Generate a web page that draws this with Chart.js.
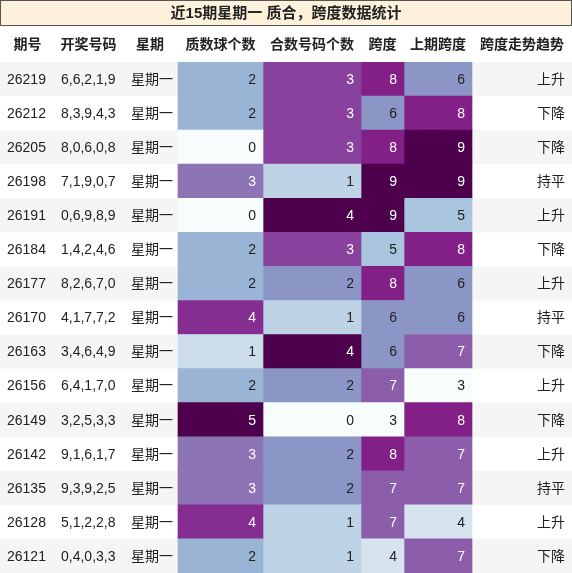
<!DOCTYPE html>
<html><head><meta charset="utf-8">
<script src="https://cdn.jsdelivr.net/npm/chart.js@4"></script>
<style>html,body{margin:0;padding:0;background:#fff}#wrap{width:572px;height:573px}</style>
</head><body><div id="wrap"><canvas id="c"></canvas></div>
<script>
const title = '近15期星期一 质合，跨度数据统计';
const headers = ['期号', '开奖号码', '星期', '质数球个数', '合数号码个数', '跨度', '上期跨度', '跨度走势趋势'];
const issues = ['26219','26212','26205','26198','26191','26184','26177','26170','26163','26156','26149','26142','26135','26128','26121'];
const draws = ['6,6,2,1,9','8,3,9,4,3','8,0,6,0,8','7,1,9,0,7','0,6,9,8,9','1,4,2,4,6','8,2,6,7,0','4,1,7,7,2','3,4,6,4,9','6,4,1,7,0','3,2,5,3,3','9,1,6,1,7','9,3,9,2,5','5,1,2,2,8','0,4,0,3,3'];
const weekday = '星期一';
const primeCount = [2,2,0,3,0,2,2,4,1,2,5,3,3,4,2];
const compositeCount = [3,3,3,1,4,3,2,1,4,2,0,2,2,1,1];
const span = [8,6,8,9,9,5,8,6,6,7,3,8,7,7,4];
const prevSpan = [6,8,9,9,5,8,6,6,7,3,8,7,7,4,7];
const trend = ['上升','下降','下降','持平','上升','下降','上升','持平','下降','上升','下降','上升','持平','上升','下降'];

// column edges in pixels
const edges = [0, 55, 122, 178, 263, 361, 404, 472, 572];
const BuPu = ['#f7fcfd','#e0ecf4','#bfd3e6','#9ebcda','#8c96c6','#8c6bb1','#88419d','#810f7c','#4d004b'];
function hex(h){return [1,3,5].map(i=>parseInt(h.substr(i,2),16));}
function bupu(t){
  t = Math.max(0, Math.min(1, t)) * (BuPu.length - 1);
  const i = Math.min(Math.floor(t), BuPu.length - 2), f = t - i;
  const a = hex(BuPu[i]), b = hex(BuPu[i+1]);
  return 'rgb(' + a.map((v,k)=>Math.round(v + (b[k]-v)*f)).join(',') + ')';
}
const heatCols = [primeCount, compositeCount, span, prevSpan];
function norm(arr){const mn=Math.min(...arr),mx=Math.max(...arr);return arr.map(v=>(v-mn)/(mx-mn));}

const datasets = heatCols.map((vals, c) => {
  const n = norm(vals);
  return {
    data: vals.map(() => [edges[3+c], edges[4+c]]),
    backgroundColor: n.map(bupu),
    norm: n, values: vals,
    categoryPercentage: 1, barPercentage: 1, grouped: false, borderWidth: 0
  };
});

const tablePlugin = {
  id: 'table',
  beforeDatasetsDraw(chart) {
    const {ctx, scales: {x, y}} = chart;
    const W = chart.width;
    ctx.save();
    // title band
    ctx.fillStyle = '#fdf1dc'; ctx.fillRect(0, 0, W, 26);
    ctx.strokeStyle = '#555'; ctx.lineWidth = 1; ctx.strokeRect(0.5, 0.5, W - 1, 25);
    ctx.fillStyle = '#222'; ctx.font = 'bold 15px "Liberation Sans", "Noto Sans CJK SC"';
    ctx.textAlign = 'center'; ctx.textBaseline = 'middle';
    ctx.fillText(title, W / 2, 14);
    // header
    ctx.font = 'bold 14px "Liberation Sans", "Noto Sans CJK SC"';
    headers.forEach((h, i) => {
      const cx = (x.getPixelForValue(edges[i]) + x.getPixelForValue(edges[i+1])) / 2;
      ctx.fillText(h, cx, 45);
    });
    // row stripes
    issues.forEach((_, r) => {
      if (r % 2 === 0) {
        const yc = y.getPixelForValue(r), h = y.height / issues.length;
        ctx.fillStyle = '#f5f5f5';
        ctx.fillRect(x.left, yc - h / 2, x.right - x.left, h);
      }
    });
    ctx.restore();
  },
  afterDatasetsDraw(chart) {
    const {ctx, scales: {x, y}} = chart;
    ctx.save();
    ctx.font = '14px "Liberation Sans", "Noto Sans CJK SC"';
    ctx.textBaseline = 'middle';
    issues.forEach((id, r) => {
      const yc = y.getPixelForValue(r) + 1;
      ctx.fillStyle = '#222';
      ctx.textAlign = 'left';
      ctx.fillText(id, x.getPixelForValue(edges[0]) + 7, yc);
      ctx.fillText(draws[r], x.getPixelForValue(edges[1]) + 6, yc);
      ctx.textAlign = 'right';
      ctx.fillText(weekday, x.getPixelForValue(edges[3]) - 5, yc);
      ctx.fillText(trend[r], x.getPixelForValue(edges[8]) - 7, yc);
      chart.data.datasets.forEach((ds, c) => {
        ctx.fillStyle = ds.norm[r] > 0.5 ? '#fff' : '#222';
        ctx.fillText(String(ds.values[r]), x.getPixelForValue(edges[4+c]) - 7, yc);
      });
    });
    ctx.restore();
  }
};

new Chart(document.getElementById('c'), {
  type: 'bar',
  data: { labels: issues, datasets },
  options: {
    indexAxis: 'y',
    responsive: true, maintainAspectRatio: false, animation: false,
    layout: { padding: { top: 62, left: 0, right: 0, bottom: 0 } },
    scales: {
      x: { type: 'linear', min: 0, max: 572, display: false },
      y: { type: 'category', display: false, offset: true }
    },
    plugins: { legend: { display: false }, tooltip: { enabled: false } }
  },
  plugins: [tablePlugin]
});
</script></body></html>
